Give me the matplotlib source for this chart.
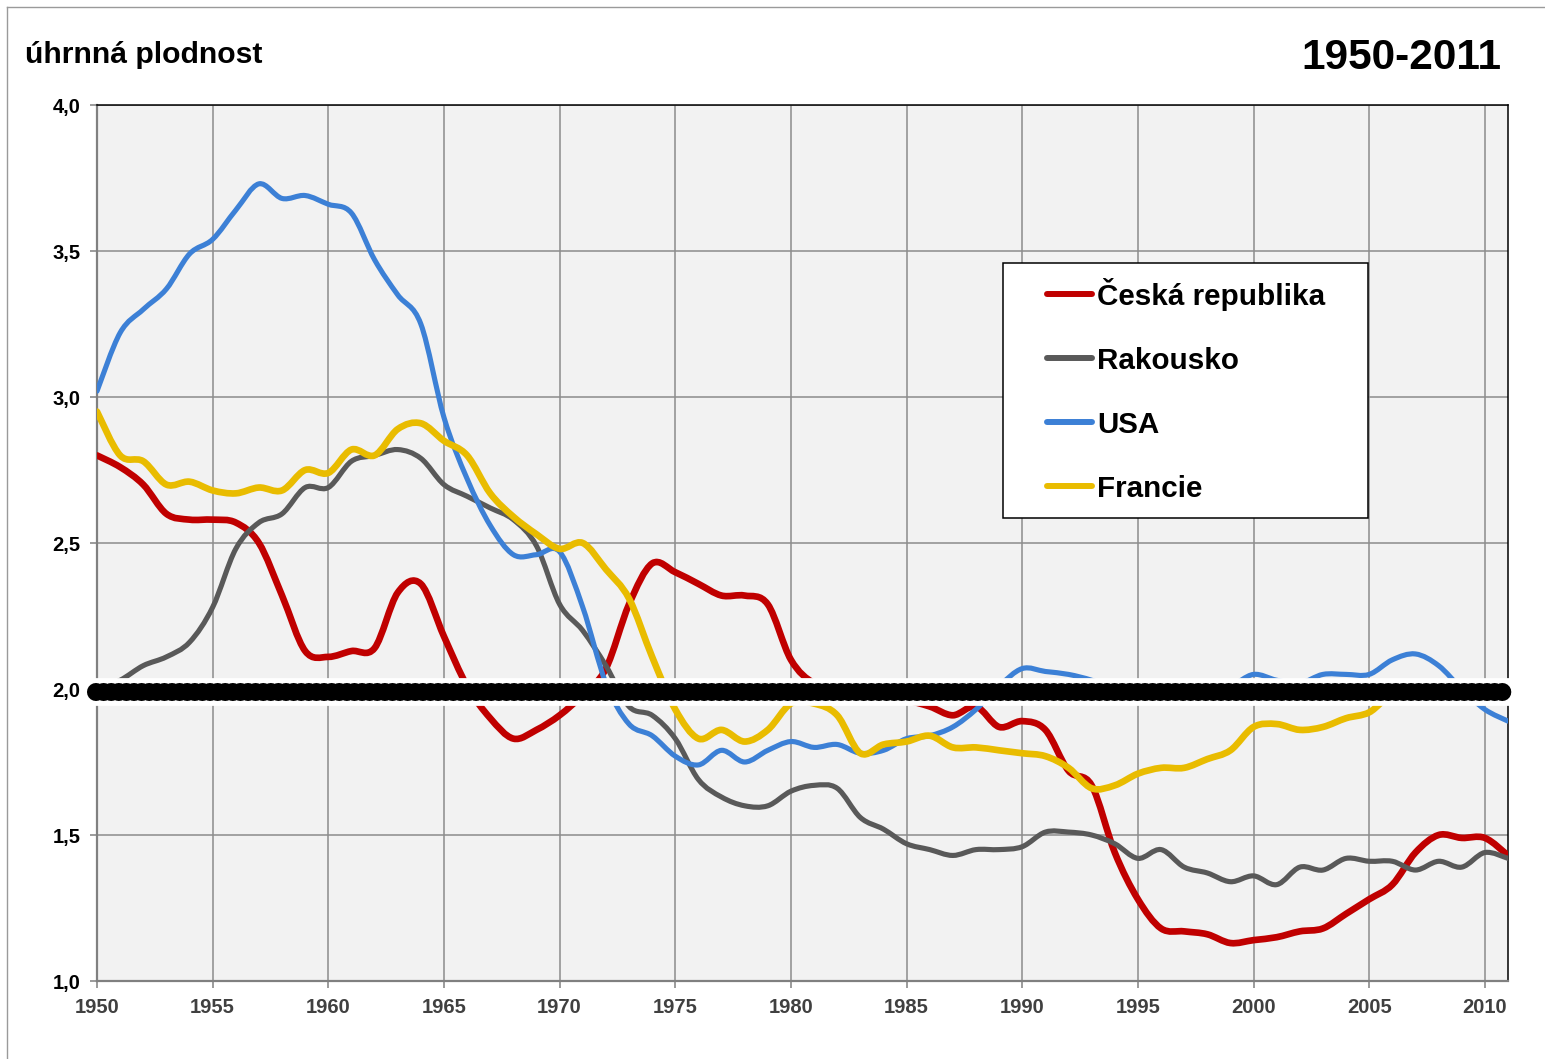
import numpy as np
import matplotlib
matplotlib.use("Agg")
import matplotlib.pyplot as plt
from matplotlib.path import Path
from matplotlib.patches import PathPatch, Rectangle
from matplotlib.lines import Line2D
from matplotlib.ticker import FuncFormatter

# total fertility rate, 1950-2011
years = list(range(1950, 2012))

cz = [2.80, 2.76, 2.70, 2.60, 2.58, 2.58, 2.57, 2.50, 2.32, 2.13,
      2.11, 2.13, 2.14, 2.33, 2.36, 2.18, 2.01, 1.90, 1.83, 1.86,
      1.91, 1.98, 2.07, 2.29, 2.43, 2.40, 2.36, 2.32, 2.32, 2.29,
      2.10, 2.02, 2.01, 1.96, 1.96, 1.96, 1.94, 1.91, 1.94, 1.87,
      1.89, 1.86, 1.72, 1.67, 1.44, 1.28, 1.18, 1.17, 1.16, 1.13,
      1.14, 1.15, 1.17, 1.18, 1.23, 1.28, 1.33, 1.44, 1.50, 1.49,
      1.49, 1.43]

at = [2.00, 2.03, 2.08, 2.11, 2.16, 2.28, 2.48, 2.57, 2.60, 2.69,
      2.69, 2.78, 2.80, 2.82, 2.79, 2.70, 2.66, 2.62, 2.58, 2.49,
      2.29, 2.20, 2.08, 1.94, 1.91, 1.83, 1.69, 1.63, 1.60, 1.60,
      1.65, 1.67, 1.66, 1.56, 1.52, 1.47, 1.45, 1.43, 1.45, 1.45,
      1.46, 1.51, 1.51, 1.50, 1.47, 1.42, 1.45, 1.39, 1.37, 1.34,
      1.36, 1.33, 1.39, 1.38, 1.42, 1.41, 1.41, 1.38, 1.41, 1.39,
      1.44, 1.42]

us = [3.02, 3.22, 3.30, 3.37, 3.49, 3.54, 3.64, 3.73, 3.68, 3.69,
      3.66, 3.63, 3.47, 3.35, 3.25, 2.93, 2.72, 2.56, 2.46, 2.46,
      2.47, 2.28, 2.02, 1.88, 1.84, 1.77, 1.74, 1.79, 1.75, 1.79,
      1.82, 1.80, 1.81, 1.78, 1.79, 1.83, 1.84, 1.87, 1.93, 2.01,
      2.07, 2.06, 2.05, 2.03, 2.00, 1.98, 1.98, 1.97, 2.00, 2.01,
      2.05, 2.03, 2.02, 2.05, 2.05, 2.05, 2.10, 2.12, 2.08, 2.00,
      1.93, 1.89]

fr = [2.95, 2.80, 2.78, 2.70, 2.71, 2.68, 2.67, 2.69, 2.68, 2.75,
      2.74, 2.82, 2.80, 2.89, 2.91, 2.85, 2.80, 2.67, 2.59, 2.53,
      2.48, 2.50, 2.41, 2.31, 2.11, 1.93, 1.83, 1.86, 1.82, 1.86,
      1.95, 1.95, 1.91, 1.78, 1.81, 1.82, 1.84, 1.80, 1.80, 1.79,
      1.78, 1.77, 1.73, 1.66, 1.67, 1.71, 1.73, 1.73, 1.76, 1.79,
      1.87, 1.88, 1.86, 1.87, 1.90, 1.92, 1.98, 1.96, 1.99, 1.99,
      2.01, 2.00]

labels = ["Česká republika", "Rakousko", "USA", "Francie"]
colors = ["#C00000", "#595959", "#3C80D6", "#E9BC00"]
widths = [4.8, 3.7, 3.7, 4.8]

plt.rcParams['font.family'] = ['Liberation Sans', 'DejaVu Sans']


def smooth_path(xs, ys):
    # Excel-like smoothed line: cubic bezier through every data point
    pts = np.column_stack([xs, ys]).astype(float)
    n = len(pts)
    verts = [pts[0]]
    codes = [Path.MOVETO]
    for i in range(n - 1):
        p0 = pts[max(i - 1, 0)]
        p1 = pts[i]
        p2 = pts[i + 1]
        p3 = pts[min(i + 2, n - 1)]
        verts += [p1 + (p2 - p0) / 6, p2 - (p3 - p1) / 6, p2]
        codes += [Path.CURVE4] * 3
    return Path(verts, codes)


fig = plt.figure(figsize=(15.45, 10.59), dpi=100)
ax = fig.add_axes([97 / 1545, 1 - 981 / 1059, (1508 - 97) / 1545, (981 - 105) / 1059])
ax.set_facecolor("#F2F2F2")

for series, color, lw in zip([cz, at, us, fr], colors, widths):
    patch = PathPatch(smooth_path(years, series), fill=False, edgecolor=color, lw=lw,
                      capstyle='round', joinstyle='round', zorder=3)
    ax.add_patch(patch)

# thick replacement-level line at 2,0
ax.plot([1949.25, 2011.2], [1.99, 1.99], color='white', lw=20, solid_capstyle='butt',
        clip_on=False, zorder=6)
ax.plot([1949.95, 2010.8], [1.99, 1.99], color='black', lw=11.2, solid_capstyle='round',
        clip_on=False, zorder=7)
ax.plot([1949.95, 2010.8], [1.99, 1.99], color='black', lw=13, linestyle=(0, (0.001, 0.42)),
        dash_capstyle='round', clip_on=False, zorder=7)

ax.set_xlim(1950, 2011)
ax.set_ylim(1.0, 4.0)
ax.set_xticks(range(1950, 2011, 5))
ax.set_yticks(np.arange(1.0, 4.01, 0.5))
ax.yaxis.set_major_formatter(FuncFormatter(lambda v, p: f"{v:.1f}".replace('.', ',')))
ax.grid(True, color="#8C8C8C", lw=1.1)
ax.set_axisbelow(True)

for side in ['top', 'right']:
    ax.spines[side].set_color('black')
    ax.spines[side].set_linewidth(1.1)
for side in ['left', 'bottom']:
    ax.spines[side].set_color('#808080')
    ax.spines[side].set_linewidth(1.6)

ax.tick_params(axis='both', direction='out', length=5, width=1.1, color='#808080')
ax.tick_params(axis='x', labelsize=14.5, labelcolor='#404040', pad=7)
ax.tick_params(axis='y', labelsize=14.5, labelcolor='black', pad=7)
for lab in ax.get_xticklabels() + ax.get_yticklabels():
    lab.set_fontweight('bold')

# legend box
ax.add_patch(Rectangle((0.642, 0.5285), 0.259, 0.2911, transform=ax.transAxes,
                       facecolor='white', edgecolor='black', lw=1.1, zorder=8))
handles = [Line2D([], [], color=c, lw=4.3, solid_capstyle='round') for c in colors]
leg = ax.legend(handles, labels, loc='upper left', bbox_to_anchor=(0.6733, 0.803),
                frameon=False, borderpad=0, borderaxespad=0, handlelength=1.52,
                handletextpad=0.17, labelspacing=1.22,
                prop={'size': 21.3, 'weight': 'bold'})
leg.set_zorder(9)

fig.text(25 / 1545, 1 - 63 / 1059, "úhrnná plodnost", fontsize=21.7, fontweight='bold',
         ha='left', va='baseline')
fig.text(1501 / 1545, 1 - 69 / 1059, "1950-2011", fontsize=30.5, fontweight='bold',
         ha='right', va='baseline')

# outer chart border (top and left edges visible)
fig.add_artist(Line2D([7 / 1545, 1], [1 - 7 / 1059, 1 - 7 / 1059], color='#9A9A9A', lw=1.0,
                      transform=fig.transFigure))
fig.add_artist(Line2D([7 / 1545, 7 / 1545], [0, 1 - 7 / 1059], color='#9A9A9A', lw=1.0,
                      transform=fig.transFigure))

fig.savefig("out.png", dpi=100)
